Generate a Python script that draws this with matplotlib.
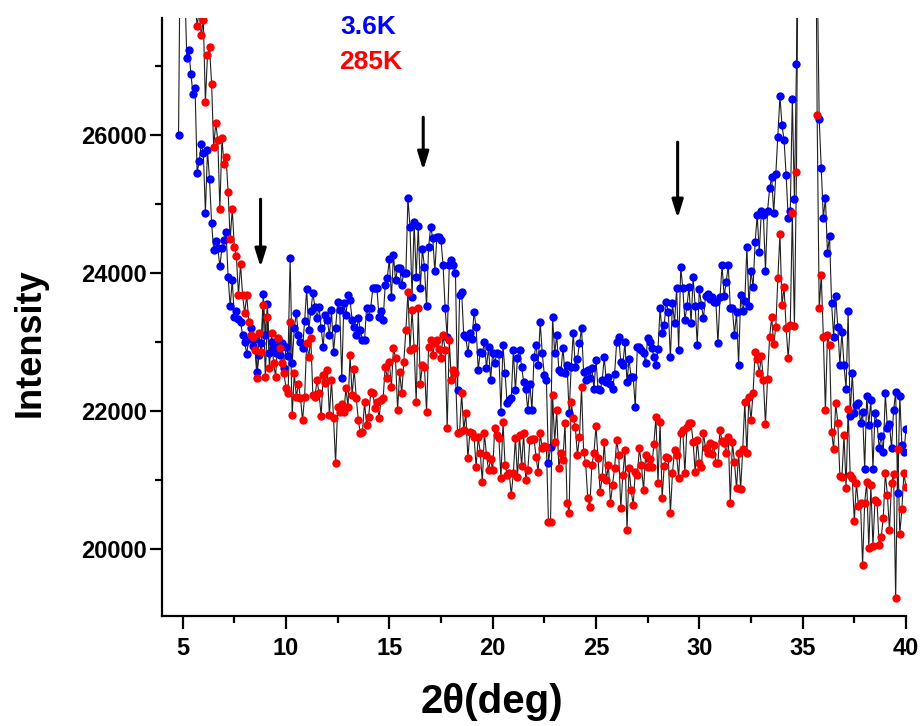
import numpy as np
import matplotlib
matplotlib.use("Agg")
import matplotlib.pyplot as plt
from matplotlib.ticker import MultipleLocator

# ---- data (2theta grid: start, step, count) ----
theta_start = 4.8
theta_step = 0.1
n_points = 353
two_theta = np.round(theta_start + theta_step * np.arange(n_points), 2)

# 3.6 K pattern (intensity, counts)
int_3p6K = [
    26000, 29500, 30500, 28200, 27116, 27230, 26884, 26594, 26680, 25460,
    25620, 25870, 25740, 24880, 25780, 25360, 24725, 24335, 24465, 24360,
    24100, 24360, 24480, 24600, 23940, 23520, 23900, 23365, 23450, 23330,
    23290, 23100, 23000, 22830, 23050, 23200, 22950, 23050, 22565, 22810,
    22985, 23700, 23100, 23550, 22840, 23000, 22930, 22850, 23050, 22810,
    22990, 22625, 22930, 22800, 24220, 22700, 23200, 23420, 23100, 23000,
    22910, 23300, 23770, 23175, 23450, 23710, 23510, 23350, 23510, 23200,
    22930, 23390, 23320, 23100, 23460, 22855, 23200, 23580, 23460, 22480,
    23565, 23390, 23680, 23610, 23320, 23220, 23100, 23350, 23175, 23030,
    23030, 23500, 23365, 23500, 23780, 23780, 23780, 23370, 23450, 23320,
    23830, 23930, 24200, 23650, 24260, 23900, 24070, 24070, 23830, 24010,
    24000, 25090, 24670, 23650, 24740, 23940, 24680, 23780, 24350, 24090,
    23520, 24380, 24670, 24510, 24030, 24520, 24520, 24480, 24115, 23490,
    23070, 24115, 24190, 24115, 24000, 22300, 23680, 23725, 23100, 23070,
    22840, 23130, 23045, 23435, 23220, 22600, 22855, 22840, 23000, 22625,
    22930, 22450, 22840, 22700, 22840, 22830, 21990, 22960, 22550, 22115,
    22160, 22190, 22885, 22300, 22770, 22885, 22640, 22420, 22320, 22015,
    22400, 22015, 22785, 22960, 22670, 23290, 22840, 22520, 22450, 21245,
    21480, 23365, 22840, 23100, 22600, 22565, 22915, 22550, 22670, 21970,
    22640, 23130, 22640, 22755, 22985, 23200, 22565, 22450, 22600, 22480,
    22625, 22320, 22740, 22320, 22300, 22450, 22785, 22420, 22500, 22400,
    22320, 22535, 23000, 23075, 22710, 22670, 23000, 22420, 22755, 22490,
    22490, 22060, 22930, 22930, 22885, 22840, 22695, 23060, 23000, 22915,
    22785, 22670, 22900, 23490, 23130, 23250, 23580, 23435, 22785, 23565,
    23275, 23780, 22885, 24090, 23780, 23320, 23520, 23800, 23275, 23940,
    23520, 22960, 23770, 23535, 23350, 23665, 23700, 23620, 23650, 23580,
    23580, 22985, 23650, 24115, 23665, 23870, 24115, 23490, 23490, 23100,
    23435, 22670, 23680, 23450, 23600, 24380, 23520, 24030, 23800, 24450,
    24840, 24305, 24900, 24840, 24030, 24900, 25230, 25390, 24870, 25435,
    25970, 26565, 26145, 25930, 25420, 24800, 24900, 26520, 25070, 27040,
    31000, 36000, 42000, 50000, 55000, 52000, 45000, 38000, 32000, 28500,
    26230, 25520, 24800, 25090, 24290, 24535, 23565, 23075, 23670, 23220,
    22670, 23145, 22670, 22320, 23450, 21930, 22550, 21970, 22090, 22120,
    21830, 21985, 21160, 22220, 21800, 22160, 21160, 21970, 21830, 21465,
    21640, 21405, 22260, 21755, 21810, 21465, 22015, 22275, 20810, 22220,
    21510, 21405, 21740,
]

# 285 K pattern (intensity, counts)
int_285K = [
    31000, 30500, 30000, 29800, 29500, 29000, 28600, 28300, 27900, 27590,
    27800, 27450, 27670, 26480, 27160, 27275, 26750, 25830, 26175, 25930,
    24930, 25955, 25580, 25680, 25175, 24490, 24930, 24380, 24250, 23680,
    24130, 23680, 23420, 23680, 23290, 23100, 23075, 22885, 22480, 23130,
    22855, 23535, 22495, 23365, 22625, 23130, 22695, 22495, 23060, 22915,
    22700, 22550, 22335, 22260, 23290, 21940, 22550, 22205, 22400, 22190,
    21870, 22205, 22985, 22785, 23060, 22235, 22205, 22450, 22260, 21925,
    22520, 22405, 22595, 21940, 22450, 21900, 21245, 22060, 21990, 22100,
    21985, 22335, 22060, 22810, 22230, 22610, 22190, 21870, 21680, 21700,
    22130, 21800, 21915, 22275, 22260, 22050, 22130, 21900, 22160, 22190,
    22640, 22480, 22710, 22350, 22915, 22770, 22015, 22565, 22260, 22710,
    23175, 23725, 22885, 23465, 22915, 22130, 23490, 22400, 22665, 22640,
    21990, 22930, 23030, 22810, 22985, 23030, 22900, 22770, 23100, 22885,
    21750, 23030, 22450, 22600, 22550, 21680, 21700, 22260, 21725, 21970,
    21320, 21700, 21680, 21625, 21190, 21625, 21400, 20970, 21680, 21365,
    21145, 21300, 21145, 21755, 21650, 21610, 21030, 21840, 21220, 21075,
    21100, 20785, 21100, 21610, 21045, 21650, 21200, 21680, 21000, 21145,
    21580, 21600, 21600, 21335, 21115, 21680, 21465, 21500, 21480, 20390,
    20390, 22235, 21550, 22015, 21175, 21400, 21290, 21825, 20670, 20525,
    22130, 21900, 21770, 21365, 21625, 22350, 21405, 21245, 20740, 20610,
    21220, 21390, 21785, 21320, 20830, 21045, 21550, 21000, 21220, 20670,
    20930, 21175, 21580, 21365, 20595, 21075, 21435, 20275, 21175, 20855,
    20640, 21115, 21075, 21465, 21220, 20855, 21365, 21190, 21300, 21190,
    21525, 21915, 20955, 21840, 20740, 21205, 21335, 21320, 20525, 21100,
    21435, 21365, 21030, 21680, 21725, 21100, 21770, 21825, 21825, 21550,
    21115, 21580, 21245, 21190, 21680, 21465, 21390, 21535, 21380, 21510,
    21245, 21245, 21725, 21565, 21535, 21390, 21625, 20670, 21550, 21260,
    20885, 21390, 20870, 21450, 22130, 21390, 22205, 21870, 22260, 22855,
    22755, 22550, 22800, 22450, 21810, 22465, 23075, 23365, 22970, 23220,
    23930, 24565, 23535, 23800, 23205, 22770, 23250, 24870, 23235, 25465,
    30000, 35000, 41000, 47000, 52000, 50000, 44000, 37000, 31000, 26300,
    23490, 23970, 23075, 22015, 23100, 22960, 21695, 21450, 22120, 21830,
    21060, 21045, 21655, 20885, 22030, 21075, 21030, 20405, 20960, 20625,
    20670, 19770, 20670, 20975, 20015, 20930, 20045, 20710, 20680, 20060,
    20175, 20450, 21100, 20785, 20275, 20960, 21090, 19290, 21450, 20220,
    20580, 21100, 20900,
]

series_labels = ["3.6K", "285K"]
series_colors = ["#0000ff", "#ff0000"]

# arrows: (2theta, tail intensity, head intensity)
arrow_x = [8.77, 16.64, 28.95]
arrow_tail = [25073, 26261, 25900]
arrow_head = [24087, 25493, 24797]

# ---- figure ----
plt.rcParams['font.family'] = ['Liberation Sans', 'DejaVu Sans']
fig = plt.figure(figsize=(9.22, 7.26), dpi=100)
ax = fig.add_axes([162/922, 1-616/726, (906-162)/922, (616-18)/726])

for vals, col in zip([int_3p6K, int_285K], series_colors):
    ax.plot(two_theta, vals, '-', color='#202020', lw=0.8, zorder=2)
    ax.plot(two_theta, vals, 'o', color=col, ms=6.0, mec=col, mew=0, zorder=3)

ax.set_xlim(4, 40)
ax.set_ylim(19030, 27700)

for sp in ['top', 'right']:
    ax.spines[sp].set_visible(False)
for sp in ['left', 'bottom']:
    ax.spines[sp].set_linewidth(1.6)

ax.xaxis.set_major_locator(MultipleLocator(5))
ax.xaxis.set_minor_locator(MultipleLocator(2.5))
ax.yaxis.set_major_locator(MultipleLocator(2000))
ax.yaxis.set_minor_locator(MultipleLocator(1000))
ax.tick_params(which='major', length=9, width=1.6, direction='out')
ax.tick_params(which='minor', length=5, width=1.6, direction='out')
ax.tick_params(axis='y', which='major', pad=2)
ax.tick_params(axis='x', which='major', pad=6)
for lab in ax.get_xticklabels() + ax.get_yticklabels():
    lab.set_fontsize(17)
    lab.set_fontweight('bold')

for xa, yt, yh in zip(arrow_x, arrow_tail, arrow_head):
    ax.annotate('', xy=(xa, yh), xytext=(xa, yt),
                arrowprops=dict(arrowstyle='-|>,head_width=0.28,head_length=0.9',
                                color='black', lw=2.2, mutation_scale=12,
                                shrinkA=0, shrinkB=0))

ax.text(12.61, 27565, series_labels[0], color=series_colors[0], fontsize=19,
        fontweight='bold', ha='left', va='center', clip_on=False)
ax.text(12.56, 27058, series_labels[1], color=series_colors[1], fontsize=19,
        fontweight='bold', ha='left', va='center', clip_on=False)

fig.text(30/922, 1-343/726, 'Intensity', rotation=90, fontsize=26,
         fontweight='bold', ha='center', va='center')
fig.text(492/922, 1-702/726, '2θ(deg)', fontsize=29,
         fontweight='bold', ha='center', va='center')

fig.savefig('out.png', dpi=100)
